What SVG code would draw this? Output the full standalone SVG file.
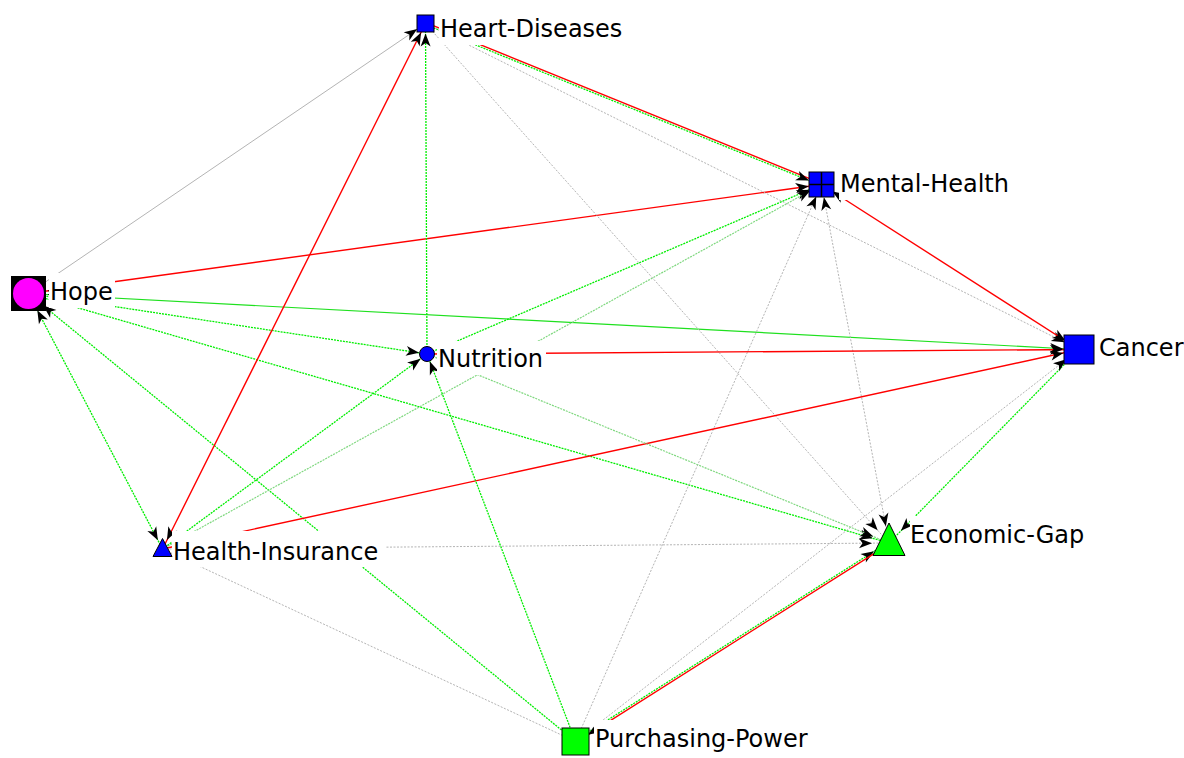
<svg xmlns="http://www.w3.org/2000/svg" width="1184" height="758" viewBox="0 0 1184 758">
<style>
.r{stroke:#ff0000;stroke-width:1.4;fill:none}
.g{stroke:#00ee00;stroke-width:1.3;stroke-dasharray:2 1;fill:none}
.gs{stroke:#1fe01f;stroke-width:1.2;fill:none}
.gm{stroke:#80d880;stroke-width:1.2;stroke-dasharray:2 1;fill:none}
.k{stroke:#b4b4b4;stroke-width:1;stroke-dasharray:2 1.5;fill:none}
.ks{stroke:#b4b4b4;stroke-width:1;fill:none}
.bg{fill:#ffffff}
.lbl{font-family:"DejaVu Sans",Verdana,sans-serif;font-size:24px;fill:#000000}
.nd{stroke:#000000;stroke-width:1}
.ah{fill:#000000}
</style>
<defs>
<marker id="a8" markerUnits="userSpaceOnUse" viewBox="0 0 13 10" markerWidth="13" markerHeight="10" refX="21" refY="5" orient="auto-start-reverse" overflow="visible"><path class="ah" d="M0,0 L13,5 L0,10 L3.5,5 Z"/></marker>
<marker id="a10" markerUnits="userSpaceOnUse" viewBox="0 0 13 10" markerWidth="13" markerHeight="10" refX="23" refY="5" orient="auto-start-reverse" overflow="visible"><path class="ah" d="M0,0 L13,5 L0,10 L3.5,5 Z"/></marker>
<marker id="a13" markerUnits="userSpaceOnUse" viewBox="0 0 13 10" markerWidth="13" markerHeight="10" refX="26" refY="5" orient="auto-start-reverse" overflow="visible"><path class="ah" d="M0,0 L13,5 L0,10 L3.5,5 Z"/></marker>
<marker id="a14" markerUnits="userSpaceOnUse" viewBox="0 0 13 10" markerWidth="13" markerHeight="10" refX="27" refY="5" orient="auto-start-reverse" overflow="visible"><path class="ah" d="M0,0 L13,5 L0,10 L3.5,5 Z"/></marker>
<marker id="a16" markerUnits="userSpaceOnUse" viewBox="0 0 13 10" markerWidth="13" markerHeight="10" refX="29" refY="5" orient="auto-start-reverse" overflow="visible"><path class="ah" d="M0,0 L13,5 L0,10 L3.5,5 Z"/></marker>
<marker id="a17" markerUnits="userSpaceOnUse" viewBox="0 0 13 10" markerWidth="13" markerHeight="10" refX="30" refY="5" orient="auto-start-reverse" overflow="visible"><path class="ah" d="M0,0 L13,5 L0,10 L3.5,5 Z"/></marker>
<marker id="a19" markerUnits="userSpaceOnUse" viewBox="0 0 13 10" markerWidth="13" markerHeight="10" refX="32" refY="5" orient="auto-start-reverse" overflow="visible"><path class="ah" d="M0,0 L13,5 L0,10 L3.5,5 Z"/></marker>
</defs>
<rect x="0" y="0" width="1184" height="758" fill="#ffffff"/>
<g id="connectors">
<line class="ks" x1="28.5" y1="293.5" x2="425.5" y2="23.5" marker-end="url(#a10)"/>
<line class="r" x1="28.5" y1="293.5" x2="821.5" y2="184.5" marker-end="url(#a13)" marker-start="url(#a19)"/>
<line class="gs" x1="28.5" y1="293.5" x2="1079" y2="349.5" marker-end="url(#a16)" marker-start="url(#a19)"/>
<line class="g" x1="28.5" y1="293.5" x2="427" y2="354" marker-end="url(#a8)"/>
<line class="g" x1="28.5" y1="293.5" x2="889" y2="543" marker-end="url(#a17)"/>
<line class="g" x1="28.5" y1="293.5" x2="162.5" y2="549" marker-end="url(#a10)" marker-start="url(#a19)"/>
<line class="g" x1="575.5" y1="741.5" x2="28.5" y2="293.5" marker-end="url(#a19)"/>
<line class="r" x1="162.5" y1="549" x2="425.5" y2="23.5" marker-end="url(#a10)" marker-start="url(#a10)"/>
<line class="g" x1="427" y1="354" x2="425.5" y2="23.5" marker-end="url(#a10)"/>
<line class="k" x1="425.5" y1="23.5" x2="889" y2="543" marker-end="url(#a17)"/>
<line class="r" x1="425.9" y1="22.6" x2="821.9" y2="183.6"/>
<line class="g" x1="425.1" y1="24.4" x2="821.1" y2="185.4" marker-end="url(#a13)"/>
<line class="k" x1="425.5" y1="23.5" x2="1079" y2="349.5" marker-end="url(#a16)"/>
<line class="g" x1="427" y1="354" x2="821.5" y2="184.5" marker-end="url(#a13)"/>
<line class="gm" x1="162.5" y1="549" x2="821.5" y2="184.5" marker-end="url(#a13)"/>
<line class="k" x1="575.5" y1="741.5" x2="821.5" y2="184.5" marker-end="url(#a13)"/>
<line class="k" x1="821.5" y1="184.5" x2="889" y2="543" marker-end="url(#a17)" marker-start="url(#a13)"/>
<line class="r" x1="821.5" y1="184.5" x2="1079" y2="349.5" marker-end="url(#a16)" marker-start="url(#a13)"/>
<line class="r" x1="427" y1="354" x2="1079" y2="349.5" marker-end="url(#a16)"/>
<line class="r" x1="162.5" y1="549" x2="1079" y2="349.5" marker-end="url(#a16)"/>
<line class="g" x1="1079" y1="349.5" x2="889" y2="543" marker-end="url(#a17)"/>
<line class="k" x1="575.5" y1="741.5" x2="1079" y2="349.5" marker-end="url(#a16)"/>
<line class="g" x1="162.5" y1="549" x2="427" y2="354" marker-end="url(#a8)"/>
<line class="g" x1="575.5" y1="741.5" x2="427" y2="354" marker-end="url(#a8)"/>
<line class="gm" x1="427" y1="354" x2="889" y2="543" marker-end="url(#a17)"/>
<line class="k" x1="162.5" y1="549" x2="889" y2="543" marker-end="url(#a17)"/>
<line class="g" x1="575" y1="740.7" x2="888.5" y2="542.2" marker-end="url(#a17)"/>
<line class="r" x1="576" y1="742.3" x2="889.5" y2="543.8" marker-start="url(#a14)"/>
<line class="k" x1="575.5" y1="741.5" x2="162.5" y2="549" marker-end="url(#a10)"/>
</g>
<g id="node-hope">
<rect class="bg" x="49" y="273" width="66" height="35"/>
<text class="lbl" x="50" y="300">Hope</text>
<rect x="11" y="276" width="35" height="35" fill="#000000"/>
<circle cx="28.5" cy="293.5" r="15.5" fill="#ff00ff"/>
</g>
<g id="node-heart-diseases">
<rect class="bg" x="439" y="10" width="186" height="35"/>
<text class="lbl" x="440" y="37">Heart-Diseases</text>
<rect class="nd" x="417" y="15" width="17" height="17" fill="#0000ff"/>
</g>
<g id="node-mental-health">
<rect class="bg" x="839" y="165" width="173" height="35"/>
<text class="lbl" x="840" y="192">Mental-Health</text>
<rect class="nd" x="809" y="172" width="25" height="25" fill="#0000ff"/>
<path d="M821.5,172 V197 M809,184.5 H834" stroke="#000" stroke-width="1.5"/>
</g>
<g id="node-cancer">
<rect class="bg" x="1098" y="329" width="86" height="35"/>
<text class="lbl" x="1099" y="356">Cancer</text>
<rect class="nd" x="1064" y="335" width="30" height="29" fill="#0000ff"/>
</g>
<g id="node-nutrition">
<rect class="bg" x="437" y="341" width="109" height="34"/>
<text class="lbl" x="438" y="367">Nutrition</text>
<circle class="nd" cx="427" cy="354" r="7.5" fill="#0000ff"/>
</g>
<g id="node-health-insurance">
<rect class="bg" x="172" y="531" width="214" height="36"/>
<text class="lbl" x="173" y="560">Health-Insurance</text>
<polygon class="nd" points="162.5,538.5 153,556.5 172,556.5" fill="#0000ff"/>
</g>
<g id="node-economic-gap">
<rect class="bg" x="910" y="516" width="176" height="35"/>
<text class="lbl" x="910" y="543">Economic-Gap</text>
<polygon class="nd" points="889,523 873,555.5 905,555.5" fill="#00ff00"/>
</g>
<g id="node-purchasing-power">
<rect class="bg" x="594" y="720" width="221" height="36"/>
<text class="lbl" x="595" y="747">Purchasing-Power</text>
<rect class="nd" x="562" y="728" width="27" height="27" fill="#00ff00"/>
</g>
</svg>
